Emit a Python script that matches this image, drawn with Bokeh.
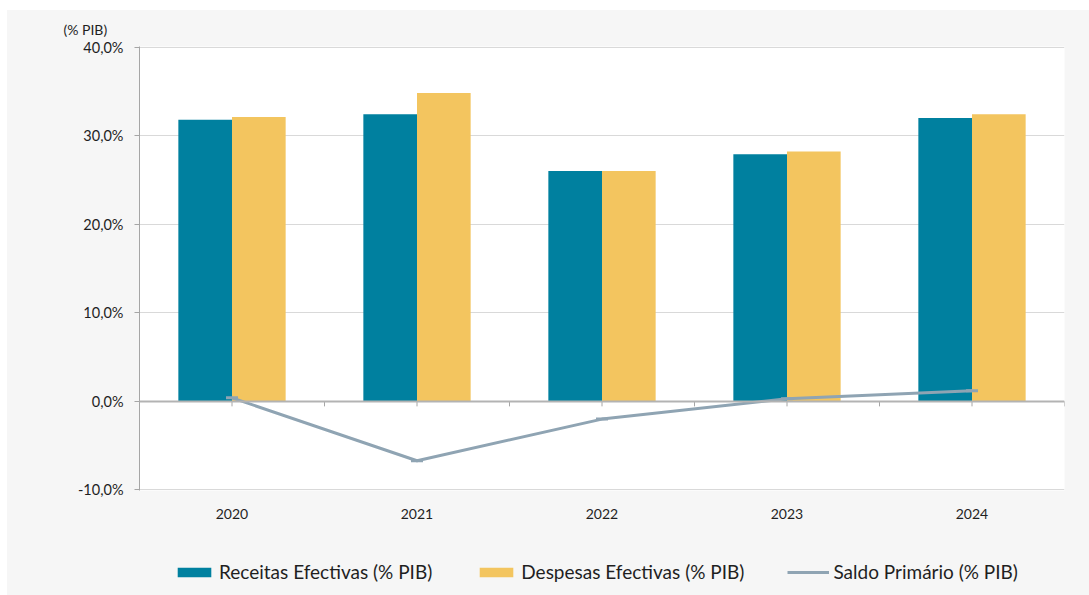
from bokeh.plotting import figure
from bokeh.layouts import column
from bokeh.models import Span, Legend, LegendItem, FixedTicker, ColumnDataSource
from bokeh.embed import file_html
from bokeh.resources import INLINE

# Public finance indicators, % of GDP
years = ["2020", "2021", "2022", "2023", "2024"]
receitas = [31.8, 32.4, 26.0, 27.9, 32.0]
despesas = [32.1, 34.8, 26.0, 28.2, 32.4]
saldo = [0.4, -6.7, -2.0, 0.3, 1.2]
y_ticks = [-10, 0, 10, 20, 30, 40]
series_labels = ["Receitas Efectivas (% PIB)", "Despesas Efectivas (% PIB)",
                 "Saldo Primário (% PIB)"]

TEAL = "#00809f"
GOLD = "#f3c55f"
SLATE = "#8fa4b3"
BG = "#f6f6f6"
FONT = "Lato"
TEXT = "#1f1f1f"

n = len(years)
centers = [i + 0.5 for i in range(n)]
bar_w = 0.29

src = ColumnDataSource(dict(
    xr=[c - bar_w / 2 for c in centers],
    xd=[c + bar_w / 2 for c in centers],
    xc=centers,
    receitas=receitas,
    despesas=despesas,
    saldo=saldo,
))

pad = 0.06
p = figure(
    width=1082, height=520,
    frame_width=925, frame_height=444,
    x_range=(0, n), y_range=(y_ticks[0] - pad, y_ticks[-1] + pad),
    output_backend="svg", toolbar_location=None,
    min_border_left=132, min_border_right=25,
    min_border_top=36, min_border_bottom=40,
)
p.background_fill_color = "white"
p.border_fill_color = BG
p.outline_line_color = None

# unit caption above the value axis
p.title.text = "(% PIB)"
p.title.align = "left"
p.title.offset = -76
p.title.standoff = 17
p.title.text_font = FONT
p.title.text_font_size = "14px"
p.title.text_font_style = "normal"
p.title.text_color = TEXT

# grid
p.xgrid.grid_line_color = None
p.ygrid.grid_line_color = "#d9d9d9"
p.ygrid.grid_line_width = 1

# y axis
p.yaxis.ticker = FixedTicker(ticks=y_ticks)
p.yaxis.major_label_overrides = {t: f"{t:.1f}".replace(".", ",") + "%" for t in y_ticks}
p.yaxis.axis_line_color = "#a6a6a6"
p.yaxis.major_tick_line_color = "#a6a6a6"
p.yaxis.major_tick_in = 0
p.yaxis.major_tick_out = 5
p.yaxis.minor_tick_line_color = None
p.yaxis.major_label_standoff = 11
p.yaxis.major_label_text_font = FONT
p.yaxis.major_label_text_font_size = "14.5px"
p.yaxis.major_label_text_color = TEXT

# x axis: year labels below the frame, no axis line
p.xaxis.ticker = FixedTicker(ticks=centers)
p.xaxis.major_label_overrides = {c: y for c, y in zip(centers, years)}
p.xaxis.axis_line_color = None
p.xaxis.major_tick_line_color = None
p.xaxis.minor_tick_line_color = None
p.xaxis.major_label_standoff = 12
p.xaxis.major_label_text_font = FONT
p.xaxis.major_label_text_font_size = "14px"
p.xaxis.major_label_text_color = TEXT

# zero line with its category tick marks
p.add_layout(Span(location=0, dimension="width", line_color="#b3b3b3", line_width=2))
tick_x = [i * 0.5 for i in range(2 * n + 1)]
tick_len = 5 * (y_ticks[-1] - y_ticks[0]) / 444
p.segment(x0=tick_x, x1=tick_x, y0=[0] * len(tick_x), y1=[-tick_len] * len(tick_x),
          line_color="#a6a6a6", line_width=1)

p.vbar(x="xr", top="receitas", width=bar_w, source=src, fill_color=TEAL, line_color=None)
p.vbar(x="xd", top="despesas", width=bar_w, source=src, fill_color=GOLD, line_color=None)
p.line(x="xc", y="saldo", source=src, line_color=SLATE, line_width=3)
p.scatter(x="xc", y="saldo", source=src, marker="dash", size=12,
          line_color=SLATE, line_width=3)

# legend strip underneath the chart (its frame lines up with the chart frame)
lg = figure(width=1082, height=65, x_range=(0, 1), y_range=(0, 1),
            output_backend="svg", toolbar_location=None,
            min_border_left=132, min_border_right=25,
            min_border_top=0, min_border_bottom=0)
lg.axis.visible = False
lg.grid.visible = False
lg.outline_line_color = None
lg.background_fill_color = BG
lg.border_fill_color = BG

# key glyphs sit outside the strip's visible range; only their legend swatches show
key = ColumnDataSource(dict(x=[-1.0, -1.0], y=[-1.0, -2.0]))
k_rec = lg.vbar(x="x", top="y", width=0.1, source=key, fill_color=TEAL, line_color=None)
k_des = lg.vbar(x="x", top="y", width=0.1, source=key, fill_color=GOLD, line_color=None)
k_line = lg.line(x="x", y="y", source=key, line_color=SLATE, line_width=3)
k_mark = lg.scatter(x="x", y="y", source=key, marker="dash", size=12,
                    line_color=SLATE, line_width=3)

legend = Legend(
    items=[
        LegendItem(label=series_labels[0], renderers=[k_rec]),
        LegendItem(label=series_labels[1], renderers=[k_des]),
        LegendItem(label=series_labels[2], renderers=[k_line, k_mark]),
    ],
    orientation="horizontal",
    location=(34, 12),
    glyph_width=42, glyph_height=12,
    label_standoff=4, spacing=43, padding=0, margin=0,
    label_text_font=FONT, label_text_font_size="19px", label_text_color=TEXT,
    label_height=22,
    background_fill_alpha=0, border_line_color=None,
)
lg.add_layout(legend, "center")

page = column(p, lg, spacing=0)
page.margin = (10, 0, 0, 7)
page.styles = {"background-color": BG}

open("out.html", "w").write(file_html(page, INLINE))
